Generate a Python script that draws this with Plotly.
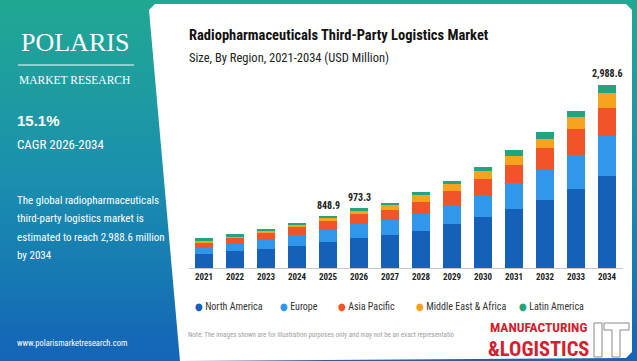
import plotly.graph_objects as go

years = [str(y) for y in range(2021, 2035)]
north_america = [224, 270, 310, 356, 418, 484, 539, 609, 719, 828, 958, 1111, 1290, 1502]
europe = [103, 114, 143, 182, 197, 230, 245, 273, 310, 364, 425, 490, 555, 653]
asia_pacific = [86, 98, 115, 132, 152, 162, 163, 201, 229, 261, 299, 354, 420, 462]
middle_east_africa = [40, 40, 40, 40, 47, 57, 82, 105, 109, 131, 147, 152, 196, 235]
latin_america = [29, 29, 29, 29, 34.9, 40.3, 38, 54, 59, 70, 98, 119, 108, 136.6]
labeled_years = ["2025", "2026", "2034"]

series = [
    ("North America", north_america, "#1560b8"),
    ("Europe", europe, "#3197ea"),
    ("Asia Pacific", asia_pacific, "#f2542a"),
    ("Middle East & Africa", middle_east_africa, "#f6a31e"),
    ("Latin America", latin_america, "#22a57f"),
]

W, H = 637, 361
NARROW = "Roboto Condensed, DejaVu Sans Condensed, Liberation Sans Narrow, Liberation Sans, sans-serif"

fig = go.Figure()

fig.add_trace(go.Scatter(
    x=[0, W, W, 0, 0], y=[0, 0, H, H, 0], mode="lines", line=dict(width=0),
    fill="toself", fillgradient=dict(type="vertical", start=0, stop=H,
                                     colorscale=[[0, "#21a893"], [0.5, "#1a8fae"], [1, "#1464b8"]]),
    hoverinfo="skip", showlegend=False, xaxis="x", yaxis="y"))

cx = [155, 626, 632, 632, 626, 186, 180, 149, 155]
cy = [4, 4, 10, 352, 358, 361, 361, 10, 4]
fig.add_trace(go.Scatter(
    x=cx, y=cy, mode="lines", line=dict(width=0), fill="toself", fillcolor="white",
    hoverinfo="skip", showlegend=False, xaxis="x", yaxis="y"))

for name, vals, col in series:
    fig.add_trace(go.Bar(x=years, y=vals, name=name, marker=dict(color=col, line=dict(width=0)),
                         showlegend=False, xaxis="x2", yaxis="y2"))

totals = [sum(v[i] for _, v, _ in series) for i in range(len(years))]

ann = []
for i, (yr, tot) in enumerate(zip(years, totals)):
    if yr in labeled_years:
        ann.append(dict(x=i, y=tot, xref="x2", yref="y2", text=f"<b>{tot:,.1f}</b>",
                        showarrow=False, yanchor="bottom", yshift=3,
                        font=dict(family=NARROW, size=10, color="#222")))

def txt(x, y, t, size, color="white", family=NARROW, xanchor="left", bold=False):
    ann.append(dict(x=x, y=y, xref="x", yref="y", text=(f"<b>{t}</b>" if bold else t),
                    showarrow=False, xanchor=xanchor, yanchor="middle",
                    font=dict(family=family, size=size, color=color)))

SERIF = "Liberation Serif, DejaVu Serif, serif"
txt(75, 42, "POLARIS", 26, family=SERIF, xanchor="center")
txt(74, 80, "MARKET RESEARCH", 11.5, family=SERIF, xanchor="center")
txt(15, 120, "15.1%", 15, bold=True, family="Liberation Sans, Arial, sans-serif")
txt(15, 144, "CAGR 2026-2034", 13)
for i, line in enumerate(["The global radiopharmaceuticals", "third-party logistics market is",
                          "estimated to reach 2,988.6 million", "by 2034"]):
    txt(15, 200 + i * 18.5, line, 11)
txt(15, 343, "www.polarismarketresearch.com", 8.5)

txt(187, 35, "Radiopharmaceuticals Third-Party Logistics Market", 14.5, color="#111", bold=True)
txt(187, 57, "Size, By Region, 2021-2034 (USD Million)", 12.5, color="#222")

leg_x = [193, 278, 336, 414, 517]
for (name, _, col), lx in zip(series, leg_x):
    ann.append(dict(x=lx, y=306, xref="x", yref="y", showarrow=False, xanchor="left", yanchor="middle",
                    text=f"<span style='color:{col}'>●</span> {name}",
                    font=dict(family=NARROW, size=10, color="#333")))

txt(186, 335, "Note: The images shown are for illustration purposes only and may not be an exact representatio",
    7, color="#a0a0a0")

# logo
txt(488, 327, "MANUFACTURING", 13.5, color="#d3202e", bold=True)
txt(486, 348.5, "&amp;LOGISTICS", 20.5, color="#d3202e", bold=True)

shapes = [
    dict(type="rect", xref="x", yref="y", x0=484, x1=632, y0=319, y1=361, fillcolor="white",
         line=dict(width=0), layer="below"),
    dict(type="rect", xref="x", yref="y", x0=594, x1=602, y0=323, y1=357, fillcolor="white",
         line=dict(color="#888", width=1)),
    dict(type="path", xref="x", yref="y",
         path="M 604 323 L 629 323 L 629 330 L 620 330 L 620 357 L 612 357 L 612 330 L 604 330 Z",
         fillcolor="white", line=dict(color="#888", width=1)),
    dict(type="line", xref="x", yref="y", x0=18, x1=134, y0=65, y1=65, line=dict(color="white", width=1)),
]

fig.update_layout(
    width=W, height=H, margin=dict(l=0, r=0, t=0, b=0),
    paper_bgcolor="white", plot_bgcolor="rgba(0,0,0,0)",
    barmode="stack", bargap=0.42, showlegend=False,
    xaxis=dict(domain=[0, 1], range=[0, W], visible=False, fixedrange=True),
    yaxis=dict(domain=[0, 1], range=[H, 0], visible=False, fixedrange=True),
    xaxis2=dict(domain=[188.5 / W, 622.5 / W], anchor="y2", type="category", showgrid=False,
                range=[-0.5, len(years) - 0.5],
                showline=True, linecolor="#c8c8c8", linewidth=1, ticks="",
                tickfont=dict(family=NARROW, size=9, color="#222", weight="bold")),
    yaxis2=dict(domain=[1 - 268 / H, 1 - 75 / H], anchor="x2", range=[0, 3152], visible=False),
    annotations=ann, shapes=shapes,
)

fig.write_html("out.html")
